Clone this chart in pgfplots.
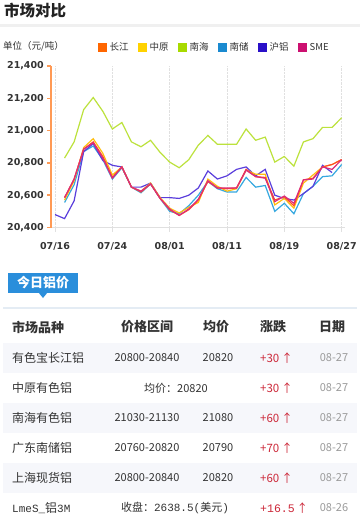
\documentclass[border=0pt]{standalone}
\usepackage{pgfplots}
\usepackage{pgfplotstable}
\pgfplotsset{compat=1.18}
\usepackage{fontspec}
\setmainfont{DejaVu Sans}
\newfontfamily\cjk{Noto Sans CJK SC}
\newfontfamily\mono{Liberation Mono}
\definecolor{cCJ}{HTML}{FF4A26}
\definecolor{cZY}{HTML}{FFBE10}
\definecolor{cNH}{HTML}{BCE23C}
\definecolor{cNC}{HTML}{35A8E0}
\definecolor{cHL}{HTML}{5A3EDC}
\definecolor{cSME}{HTML}{DC2C78}
\definecolor{lCJ}{HTML}{FF6600}
\definecolor{lZY}{HTML}{FFD200}
\definecolor{lNH}{HTML}{A8DA00}
\definecolor{lNC}{HTML}{1A8AD0}
\definecolor{lHL}{HTML}{2A10C8}
\definecolor{lSME}{HTML}{CC1070}
\definecolor{c222}{HTML}{222222}
\definecolor{c333}{HTML}{333333}
\definecolor{c999}{HTML}{9A9A9A}
\definecolor{cred}{HTML}{CC2738}
\definecolor{rowbg}{HTML}{F6F7FB}
\definecolor{tabblue}{HTML}{2A8EDB}
\definecolor{sepline}{HTML}{E4ECF4}
\definecolor{topline}{HTML}{F0F0F0}
\definecolor{axorange}{HTML}{FF9A55}
\definecolor{axgray}{HTML}{E0E0E0}

\pgfplotstableread{
i cj zy nh nc hl sme
0 nan nan nan nan 20480 nan
1 20585 20570 20830 20555 20455 20585
2 20700 20690 20930 20665 20565 20700
3 20885 20895 21130 20870 20870 20885
4 20930 20950 21205 20905 20920 20925
5 20840 20860 21120 20820 20815 20830
6 20710 20725 21010 20700 20785 20705
7 20775 20775 21050 20770 20775 20775
8 20650 20650 20930 20650 20650 20650
9 20620 20625 20900 20615 20650 20625
10 20670 20675 20940 20670 20675 20670
11 20580 20585 20865 20580 20585 20580
12 20510 20520 20805 20500 20585 20515
13 20475 20490 20770 20485 20580 20475
14 20510 20525 20820 20535 20600 20515
15 20570 20555 20910 20600 20645 20575
16 20685 20700 20970 20685 20750 20690
17 20645 20655 20915 20640 20700 20645
18 20640 20625 20915 20620 20720 20645
19 20645 20640 20915 20620 20760 20645
20 20760 20755 21010 20710 20775 20755
21 20715 20730 20940 20650 20720 20715
22 20710 20730 20960 20660 20760 20705
23 20570 20540 20805 20500 20600 20560
24 20590 20580 20840 20550 20580 20595
25 20535 20520 20780 20485 20570 20550
26 20695 20675 20930 20610 20610 20695
27 20705 20725 20950 20655 20655 20700
28 20775 20775 21020 20715 20785 20775
29 20790 20790 21020 20720 20740 20760
30 20820 20820 21080 20790 nan 20820
}\pricedata

\begin{document}
\begin{tikzpicture}
\useasboundingbox (0pt,0pt) rectangle (360pt,-525pt);
\fill[white] (0pt,0pt) rectangle (360pt,-525pt);
\begin{scope}[x=1pt,y=-1pt]
\tikzset{
  hd/.style={inner sep=0pt, font=\cjk\bfseries\fontsize{13}{15}\selectfont, text=c333},
  bd/.style={anchor=west, inner sep=0pt, font=\cjk\fontsize{12}{14}\selectfont, text=c333},
  num/.style={inner sep=0pt, font=\cjk\fontsize{11}{13}\selectfont, text=c333},
  up/.style={anchor=west, inner sep=0pt, font=\cjk\fontsize{11.5}{13}\selectfont, text=cred},
  dt/.style={inner sep=0pt, font=\cjk\fontsize{11}{13}\selectfont, text=c999}
}
% title
\node[anchor=west, inner sep=0pt, font=\cjk\bfseries\fontsize{15.5}{18}\selectfont, text=c222] at (4,11) {市场对比};
\fill[topline] (0,23.5) rectangle (360,27);
\node[anchor=west, inner sep=0pt, font=\cjk\fontsize{9.5}{11}\selectfont, text=c333] at (3,46.5) {单位（元/吨）};
% tab
\fill[tabblue] (8,273) rectangle (78,293);
\fill[tabblue] (38.5,292.5) -- (47.5,292.5) -- (43,298) -- cycle;
\node[inner sep=0pt, font=\cjk\bfseries\fontsize{13}{15}\selectfont, text=white] at (43,283) {今日铝价};
\draw[sepline, line width=1.5pt] (3,308) -- (357,308);
% row backgrounds
\fill[rowbg] (3,343) rectangle (357,373);
\fill[rowbg] (3,403) rectangle (357,433);
\fill[rowbg] (3,463) rectangle (357,493);
% header
\node[hd, anchor=west] at (12,327) {市场品种};
\node[hd] at (147,327) {价格区间};
\node[hd] at (216,327) {均价};
\node[hd] at (273,327) {涨跌};
\node[hd] at (332,327) {日期};
% row 1
\node[bd] at (12,358) {有色宝长江铝};
\node[num] at (147,358) {20800-20840};
\node[num] at (218,358) {20820};
\node[up] at (260,358) {+30\,↑};
\node[dt] at (334,358) {08-27};
% row 2
\node[bd] at (12,388) {中原有色铝};
\node[num] at (176,388) {均价：20820};
\node[up] at (260,388) {+30\,↑};
\node[dt] at (334,388) {08-27};
% row 3
\node[bd] at (12,418) {南海有色铝};
\node[num] at (147,418) {21030-21130};
\node[num] at (218,418) {21080};
\node[up] at (260,418) {+60\,↑};
\node[dt] at (334,418) {08-27};
% row 4
\node[bd] at (12,448) {广东南储铝};
\node[num] at (147,448) {20760-20820};
\node[num] at (218,448) {20790};
\node[up] at (260,448) {+70\,↑};
\node[dt] at (334,448) {08-27};
% row 5
\node[bd] at (12,478) {上海现货铝};
\node[num] at (147,478) {20800-20840};
\node[num] at (218,478) {20820};
\node[up] at (260,478) {+60\,↑};
\node[dt] at (334,478) {08-27};
% row 6
\node[bd] at (12,508) {{\mono\fontsize{11}{13}\selectfont LmeS\_}铝{\mono\fontsize{11}{13}\selectfont 3M}};
\node[num] at (175,508) {收盘：{\mono 2638.5(}美元{\mono )}};
\node[up] at (260,508) {{\mono +16.5}\,↑};
\node[dt] at (334,508) {08-26};
\end{scope}

\begin{axis}[
  at={(51pt,-227.5pt)}, anchor=south west,
  scale only axis, width=294pt, height=161.5pt,
  xmin=-0.42, xmax=30.35, ymin=20400, ymax=21400,
  axis x line=bottom, axis y line=left,
  x axis line style={-, draw=axgray, line width=1.5pt},
  y axis line style={-, draw=axorange, line width=1.5pt},
  xtick={0,6,12,18,24,30},
  xticklabels={07/16,07/24,08/01,08/11,08/19,08/27},
  ytick={20400,20600,20800,21000,21200,21400},
  scaled y ticks=false,
  tick align=outside, major tick length=4pt,
  xtick style={draw=axgray, densely dotted, line width=1pt},
  ytick style={draw=axorange, line width=1.5pt},
  xmajorgrids, ymajorgrids=false,
  major grid style={draw=axgray, densely dotted, line width=1pt},
  /pgf/number format/assume math mode=true,
  /pgf/number format/1000 sep={,},
  yticklabel style={font=\bfseries\fontsize{9.5}{11}\selectfont, text=c333, inner sep=0pt, xshift=-3pt},
  xticklabel style={font=\bfseries\fontsize{9.5}{11}\selectfont, text=c333, anchor=center, yshift=-15pt},
  legend image code/.code={\fill[#1, draw=none] (0pt,-4.5pt) rectangle (9pt,4.5pt);},
  legend style={at={(0.16,1.1146)}, anchor=west, draw=none, fill=none, inner sep=0pt,
    legend columns=6, font=\cjk\fontsize{9.5}{11}\selectfont, text=c333,
    nodes={inner sep=2.5pt},
    /tikz/every even column/.append style={column sep=7pt}},
  legend cell align=left,
  clip=true,
]
\addlegendimage{fill=lCJ}\addlegendentry{长江}
\addlegendimage{fill=lZY}\addlegendentry{中原}
\addlegendimage{fill=lNH}\addlegendentry{南海}
\addlegendimage{fill=lNC}\addlegendentry{南储}
\addlegendimage{fill=lHL}\addlegendentry{沪铝}
\addlegendimage{fill=lSME}\addlegendentry{SME}
\addplot[cNH, line width=1.2pt, forget plot] table[x=i, y=nh] {\pricedata};
\addplot[cNC, line width=1.2pt, forget plot] table[x=i, y=nc] {\pricedata};
\addplot[cHL, line width=1.2pt, forget plot] table[x=i, y=hl] {\pricedata};
\addplot[cZY, line width=1.2pt, forget plot] table[x=i, y=zy] {\pricedata};
\addplot[cCJ, line width=1.2pt, forget plot] table[x=i, y=cj] {\pricedata};
\addplot[cSME, line width=1.2pt, forget plot] table[x=i, y=sme] {\pricedata};
\end{axis}
\end{tikzpicture}
\end{document}
